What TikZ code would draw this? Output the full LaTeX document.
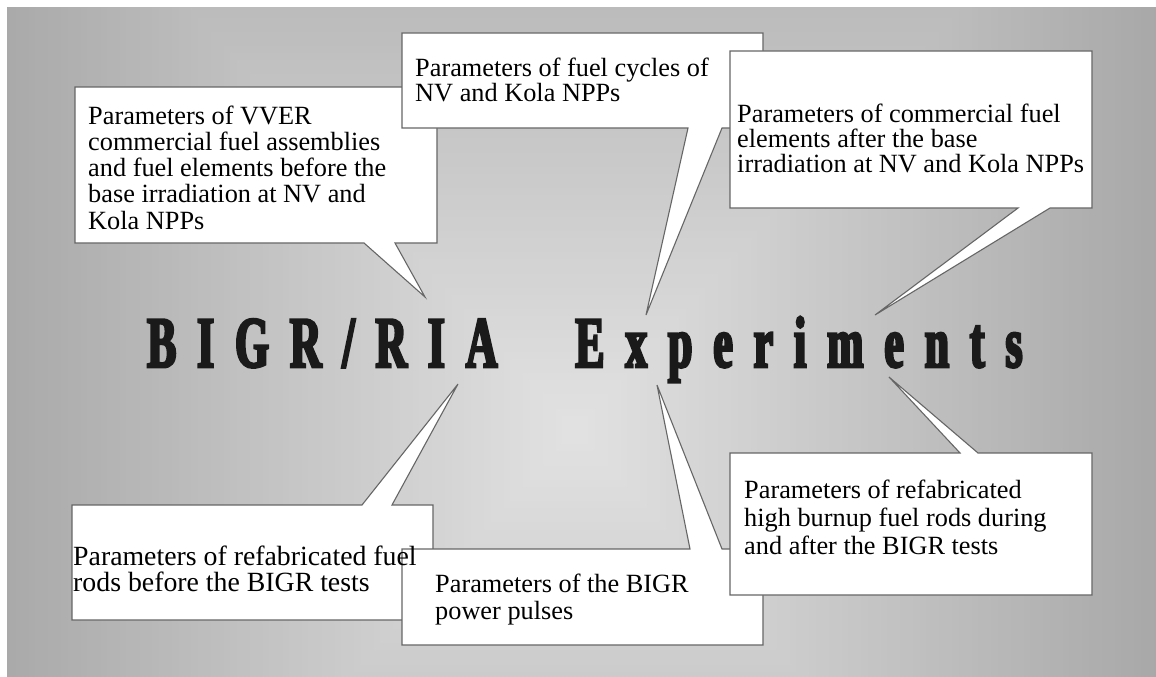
\documentclass[tikz,border=0pt]{standalone}
\usepackage{fontspec}
\setmainfont{Liberation Serif}
\newfontfamily\titlefont{Liberation Serif}[FakeStretch=0.6,FakeBold=3.5,LetterSpace=29]
\newcommand\callouttext[3][26.3pt]{\parbox[t]{440pt}{\fontsize{#1}{#2}\selectfont\raggedright #3}}
\definecolor{boxgray}{HTML}{666666}
\definecolor{titleink}{HTML}{1A1A1A}
\tikzset{
  callout/.style={fill=white, draw=boxgray, line width=1.1pt, line join=miter},
  ctext/.style={anchor=base west, inner sep=0pt, text=black},
}
\begin{document}
\begin{tikzpicture}[x=1pt,y=-1pt]
\useasboundingbox (0,0) rectangle (1156,677);
% background gradient
\begin{scope}
\clip (7,8) rectangle (1156,677);
\foreach \i in {0,...,89} {
  \pgfmathsetmacro\tt{1-\i/90}
  \pgfmathsetmacro\gg{(226-58*\tt)/255}
  \definecolor{bgc}{gray}{\gg}
  \fill[bgc] ({575-585*\tt},{430-640*\tt}) rectangle ({575+585*\tt},{430+640*\tt});
}
\end{scope}
% pointer tips
\coordinate (t1) at (425,297);
\coordinate (t2) at (646,315);
\coordinate (t3) at (875,315);
\coordinate (t4) at (458,384);
\coordinate (t5) at (657,385);
\coordinate (t6) at (889,377);
% title
\node[anchor=base west, inner sep=0pt, text=titleink] (title) at (147,367)
  {\titlefont\bfseries\fontsize{72.5pt}{80pt}\selectfont BIGR/RIA\hspace{78pt}Experiments};
% callout shapes
\draw[callout] (75,87) -- (437,87) -- (437,243) -- (395,243) -- (t1) -- (364,243) -- (75,243) -- cycle;
\draw[callout] (402,33) -- (763,33) -- (763,128) -- (722,128) -- (t2) -- (688,128) -- (402,128) -- cycle;
\draw[callout] (730,51) -- (1092,51) -- (1092,208) -- (1050,208) -- (t3) -- (1018,208) -- (730,208) -- cycle;
\draw[callout] (72,505) -- (362,505) -- (t4) -- (392,505) -- (433,505) -- (433,620) -- (72,620) -- cycle;
\draw[callout] (402,549) -- (690,549) -- (t5) -- (722,549) -- (763,549) -- (763,645) -- (402,645) -- cycle;
\draw[callout] (730,453) -- (960,453) -- (t6) -- (978,453) -- (1092,453) -- (1092,595) -- (730,595) -- cycle;
% callout texts
\node[ctext] (c1) at (88,124) {\callouttext{26.3pt}{Parameters of VVER\\commercial fuel assemblies\\and fuel elements before the\\base irradiation at NV and\\Kola NPPs}};
\node[ctext] (c2) at (415,76) {\callouttext{25.5pt}{Parameters of fuel cycles of\\NV and Kola NPPs}};
\node[ctext] (c3) at (737,122) {\callouttext{25.3pt}{Parameters of commercial fuel\\elements after the base\\irradiation at NV and Kola NPPs}};
\node[ctext] (c4) at (73,565) {\callouttext[27.8pt]{26pt}{Parameters of refabricated fuel\\rods before the BIGR tests}};
\node[ctext] (c5) at (435,592) {\callouttext{27pt}{Parameters of the BIGR\\power pulses}};
\node[ctext] (c6) at (744,498) {\callouttext{28pt}{Parameters of refabricated\\high burnup fuel rods during\\and after the BIGR tests}};
\end{tikzpicture}
\end{document}
